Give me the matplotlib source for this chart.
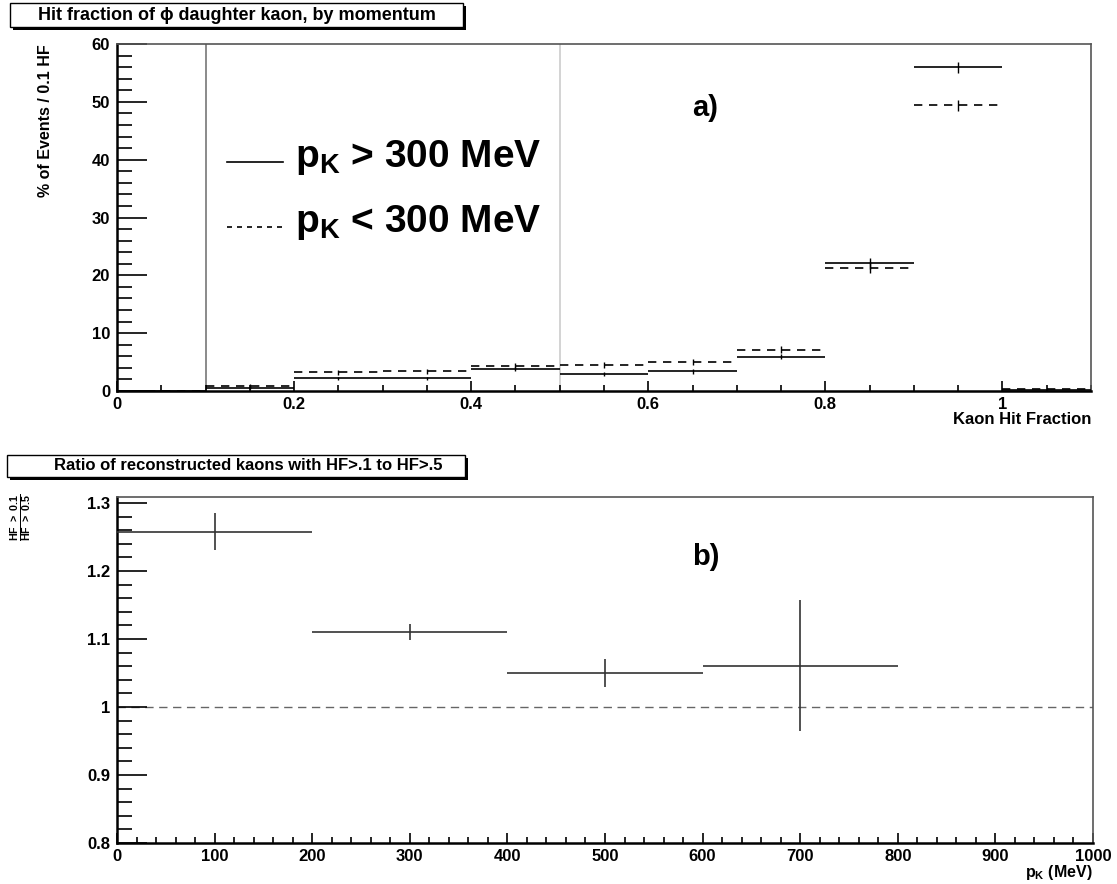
import numpy as np
import matplotlib
matplotlib.use('Agg')
import matplotlib.pyplot as plt
from matplotlib.lines import Line2D
from matplotlib.patches import Rectangle
from matplotlib.ticker import MultipleLocator
from matplotlib.legend_handler import HandlerLine2D

plt.rcParams['font.family'] = ['Liberation Sans', 'DejaVu Sans']
plt.rcParams['font.weight'] = 'bold'
plt.rcParams['mathtext.fontset'] = 'custom'
plt.rcParams['mathtext.rm'] = 'Liberation Sans:bold'
plt.rcParams['mathtext.bf'] = 'Liberation Sans:bold'
plt.rcParams['mathtext.it'] = 'Liberation Sans:bold'

# hit fraction histograms, 0.1 wide bins from 0 to 1.1
hf_edges = [0.0, 0.1, 0.2, 0.3, 0.4, 0.5, 0.6, 0.7, 0.8, 0.9, 1.0, 1.1]
hf_high = [0.0, 0.6, 2.2, 2.2, 3.8, 2.95, 3.4, 5.95, 22.1, 56.0, 0.1]
hf_high_err = [0.0, 0.2, 0.3, 0.3, 0.4, 0.35, 0.4, 0.5, 0.95, 0.95, 0.1]
hf_low = [0.0, 0.85, 3.2, 3.4, 4.35, 4.5, 4.97, 7.1, 21.3, 49.4, 0.3]
hf_low_err = [0.0, 0.3, 0.4, 0.4, 0.45, 0.45, 0.5, 0.6, 0.95, 0.95, 0.15]
hf_cuts = [0.1, 0.5]

# ratio HF>0.1 / HF>0.5 vs kaon momentum
p_edges = [0, 200, 400, 600, 800]
ratio = [1.258, 1.11, 1.05, 1.061]
ratio_err = [0.027, 0.012, 0.02, 0.096]

legend_labels = [r'$\mathbf{p_{K}}$ > 300 MeV', r'$\mathbf{p_{K}}$ < 300 MeV']

W, H = 1117, 884


class LowLine(HandlerLine2D):
  # ROOT puts the legend line nearer the baseline
  def create_artists(self, legend, orig_handle, xdescent, ydescent, width, height, fontsize, trans):
    arts = super().create_artists(legend, orig_handle, xdescent, ydescent, width, height, fontsize, trans)
    for a in arts:
      a.set_ydata(np.asarray(a.get_ydata()) - 0.22 * fontsize)
    return arts


def fig_box(fig, x0, y0, x1, y1, text, fs, tx=None):
  # title box with a drop shadow, pixel coords from top left
  sh = 3
  if tx is None:
    tx = (x0 + x1) / 2
  fig.patches.append(Rectangle(((x0 + sh) / W, 1 - (y1 + sh) / H), (x1 - x0) / W, (y1 - y0) / H,
                               transform=fig.transFigure, facecolor='black', edgecolor='black', lw=0))
  fig.patches.append(Rectangle((x0 / W, 1 - y1 / H), (x1 - x0) / W, (y1 - y0) / H,
                               transform=fig.transFigure, facecolor='white', edgecolor='black', lw=1))
  fig.text(tx / W, 1 - (y0 + y1) / 2 / H, text, ha='center', va='center',
           fontsize=fs, fontweight='bold')


def style_axes(ax):
  for s in ['left', 'bottom']:
    ax.spines[s].set_linewidth(1.8)
    ax.spines[s].set_color('black')
  for s in ['top', 'right']:
    ax.spines[s].set_linewidth(1.2)
    ax.spines[s].set_color('#555555')
  ax.tick_params(axis='both', which='both', direction='in', top=False, right=False,
                 labelsize=12, width=1.2, color='black')
  ax.tick_params(axis='y', which='major', length=21.5, pad=5)
  ax.tick_params(axis='y', which='minor', length=11)
  ax.tick_params(axis='x', which='major', length=7.5, pad=4)
  ax.tick_params(axis='x', which='minor', length=4.5)
  for lab in ax.get_xticklabels() + ax.get_yticklabels():
    lab.set_fontweight('bold')


def draw_hist(ax, edges, vals, errs, ls):
  lo = np.array(edges[:-1])
  hi = np.array(edges[1:])
  vals = np.array(vals)
  errs = np.array(errs)
  mid = (lo + hi) / 2
  ax.hlines(vals, lo, hi, colors='black', linestyles=ls, lw=1.2, zorder=3)
  ax.vlines(mid, vals - errs, vals + errs, colors='black', lw=1.0, zorder=3)


fig = plt.figure(figsize=(W / 100, H / 100), dpi=100)

# a) hit fraction
ax1 = fig.add_axes([117 / W, 1 - 391 / H, (1091 - 117) / W, (391 - 44) / H])
for c, col in zip(hf_cuts, ['#777777', '#cccccc']):
  ax1.axvline(c, color=col, lw=1.2, zorder=1)
draw_hist(ax1, hf_edges, hf_high, hf_high_err, 'solid')
draw_hist(ax1, hf_edges, hf_low, hf_low_err, (0, (5, 4)))
ax1.set_xlim(0, 1.1)
ax1.set_ylim(0, 60)
ax1.xaxis.set_major_locator(MultipleLocator(0.2))
ax1.xaxis.set_minor_locator(MultipleLocator(0.05))
ax1.yaxis.set_major_locator(MultipleLocator(10))
ax1.yaxis.set_minor_locator(MultipleLocator(2))
ax1.set_xticks([0, 0.2, 0.4, 0.6, 0.8, 1.0])
ax1.set_xticklabels(['0', '0.2', '0.4', '0.6', '0.8', '1'])
style_axes(ax1)

handles = [Line2D([], [], color='black', lw=1.2),
           Line2D([], [], color='black', lw=1.2, linestyle=(0, (3, 3)))]
ax1.legend(handles, legend_labels, loc='upper left', bbox_to_anchor=(0.113, 0.73),
           frameon=False, fontsize=28, handlelength=1.45, handletextpad=0.3,
           borderpad=0, borderaxespad=0, labelspacing=0.68,
           handler_map={Line2D: LowLine()})
ax1.text(0.604, 0.815, 'a)', transform=ax1.transAxes, fontsize=21, fontweight='bold',
         ha='center', va='center')

fig.text(46 / W, 1 - 44 / H, '% of Events / 0.1 HF', rotation=90, ha='center', va='top',
         fontsize=11.5, fontweight='bold')
fig.text(1091 / W, 1 - 420 / H, 'Kaon Hit Fraction', ha='right', va='center',
         fontsize=12, fontweight='bold')

# b) ratio vs momentum
ax2 = fig.add_axes([117 / W, 1 - 843 / H, (1093 - 117) / W, (843 - 497) / H])
ax2.axhline(1.0, color='#666666', lw=1.0, linestyle=(0, (6, 4)), zorder=1)
plo = np.array(p_edges[:-1])
phi = np.array(p_edges[1:])
r = np.array(ratio)
re = np.array(ratio_err)
ax2.hlines(r, plo, phi, colors='#333333', lw=1.2, zorder=3)
ax2.vlines((plo + phi) / 2, r - re, r + re, colors='#333333', lw=1.2, zorder=3)
ax2.set_xlim(0, 1000)
ax2.set_ylim(0.8, 1.309)
ax2.xaxis.set_major_locator(MultipleLocator(100))
ax2.xaxis.set_minor_locator(MultipleLocator(20))
ax2.yaxis.set_major_locator(MultipleLocator(0.1))
ax2.yaxis.set_minor_locator(MultipleLocator(0.02))
ax2.set_yticks([0.8, 0.9, 1.0, 1.1, 1.2, 1.3])
ax2.set_yticklabels(['0.8', '0.9', '1', '1.1', '1.2', '1.3'])
style_axes(ax2)
ax2.text(0.603, 0.827, 'b)', transform=ax2.transAxes, fontsize=21, fontweight='bold',
         ha='center', va='center')

fig.text(22 / W, 1 - 494 / H, r'$\frac{\mathbf{HF\ >\ 0.1}}{\mathbf{HF\ >\ 0.5}}$',
         rotation=90, ha='center', va='top', fontsize=11)
fig.text(1093 / W, 1 - 872 / H, r'$\mathbf{p_{K}}$ (MeV)', ha='right', va='center',
         fontsize=11.5, fontweight='bold')

fig_box(fig, 10, 3, 463, 27, 'Hit fraction of \u03d5 daughter kaon, by momentum', 13)
fig_box(fig, 7, 455, 465, 477, 'Ratio of reconstructed kaons with HF>.1 to HF>.5', 12, tx=248)

fig.savefig('out.png', dpi=100)
